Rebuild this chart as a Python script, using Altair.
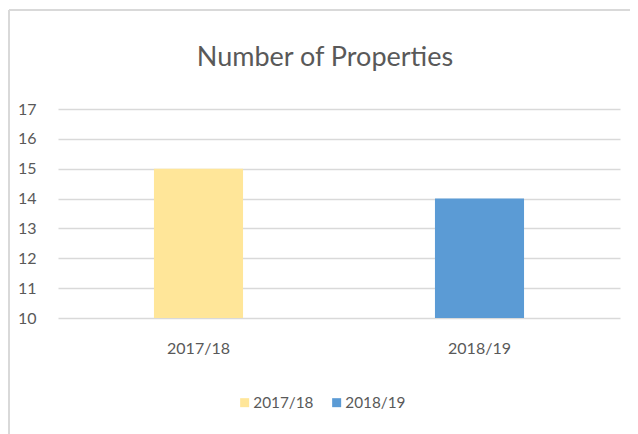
import altair as alt
import pandas as pd

years = ["2017/18", "2018/19"]
counts = [15, 14]
colors = ["#FFE699", "#5B9BD5"]
axis_min = 10

df = pd.DataFrame({"year": years, "count": counts, "base": [axis_min] * len(years)})

FONT = "Lato"
TXT = "#595959"

bars = alt.Chart(df).mark_bar().encode(
    x=alt.X("year:N", sort=years,
            scale=alt.Scale(paddingInner=0.683, paddingOuter=0.3415),
            axis=alt.Axis(title=None, labelAngle=0, labelFontSize=16, labelColor=TXT,
                          labelFont=FONT, ticks=False, domain=False, labelPadding=22)),
    y=alt.Y("count:Q", scale=alt.Scale(domain=[10, 17], nice=False, zero=False),
            axis=alt.Axis(title=None, values=list(range(10, 18)), labelFontSize=16,
                          labelColor=TXT, labelFont=FONT, ticks=False, domain=False,
                          gridColor="#D9D9D9", gridWidth=1.5, labelPadding=22)),
    y2="base:Q",
    color=alt.Color("year:N", sort=years, scale=alt.Scale(domain=years, range=colors),
                    legend=alt.Legend(title=None, orient="none", direction="horizontal",
                                      legendX=179, legendY=286, symbolType="square",
                                      symbolSize=81, symbolStrokeWidth=0,
                                      labelFontSize=15.3, labelColor=TXT, labelFont=FONT,
                                      columnPadding=15, labelOffset=1)),
)

border_left = alt.Chart(df).mark_rule(color="#D9D9D9", strokeWidth=2, clip=False).encode(
    x=alt.value(-49), x2=alt.value(-49), y=alt.value(-99), y2=alt.value(330))
border_top = alt.Chart(df).mark_rule(color="#D9D9D9", strokeWidth=2, clip=False).encode(
    x=alt.value(-49), x2=alt.value(574), y=alt.value(-99), y2=alt.value(-99))

chart = alt.layer(bars, border_left, border_top).properties(
    width=562, height=209,
    title=alt.TitleParams("Number of Properties", fontSize=27, font=FONT, color=TXT,
                          fontWeight="normal", anchor="middle", offset=-63, dx=-14),
    padding={"left": 50, "top": 101, "right": 10, "bottom": 116},
    autosize=alt.AutoSizeParams(type="none"),
).configure_view(stroke=None)

chart.save("out.html", embed_options={"renderer": "svg", "actions": False})
